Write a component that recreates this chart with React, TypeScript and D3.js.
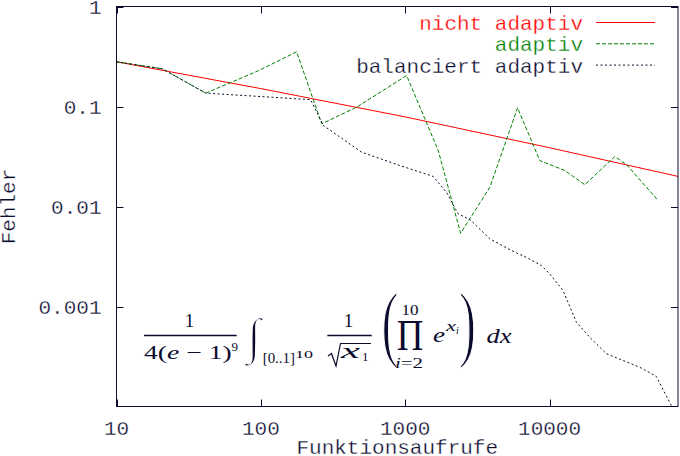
import React from "react";
import * as d3 from "d3";

const xTicks = [10, 100, 1000, 10000];
const xTickLabels = ["10", "100", "1000", "10000"];
const yTicks = [1, 0.1, 0.01, 0.001];
const yTickLabels = ["1", "0.1", "0.01", "0.001"];
const xDomain = [10, 77600];
const yDomain = [0.0001, 1];

const seriesNames = ["nicht adaptiv", "adaptiv", "balanciert adaptiv"];

const nichtX = [10, 100, 1000, 10000, 77600];
const nichtY = [0.28, 0.151, 0.0787, 0.0387, 0.02];

const adaptivX = [10, 20.8, 41.5, 94.6, 177, 264, 461, 1023, 1694, 2421, 3862, 6004, 8560, 12760, 17550, 28300, 34100, 56400];
const adaptivY = [0.28, 0.238, 0.136, 0.2255, 0.352, 0.0671, 0.0984, 0.204, 0.0363, 0.0054, 0.0156, 0.097, 0.0288, 0.0229, 0.0165, 0.0316, 0.0263, 0.0115];

const balX = [10, 20.8, 41.6, 117, 221, 271, 499, 918, 1563, 1936, 2328, 2806, 3857, 5446, 7098, 8785, 10030, 12390, 15340, 18970, 24760, 31470, 42100, 54900, 69800];
const balY = [0.28, 0.238, 0.136, 0.124, 0.117, 0.0646, 0.0349, 0.0257, 0.02, 0.0138, 0.00845, 0.00741, 0.00475, 0.00363, 0.00304, 0.00257, 0.00212, 0.00145, 0.000697, 0.000493, 0.000337, 0.000293, 0.000247, 0.0002, 0.000102];

const W = 680;
const H = 456;
const M = { left: 116.5, right: 678, top: 6.5, bottom: 406.5 };
const INK = "#0b0b2e";
const MONO = "'Liberation Mono', 'DejaVu Sans Mono', monospace";
const SERIF = "'Liberation Serif', 'DejaVu Serif', serif";

const x = d3.scaleLog().domain(xDomain).range([M.left, M.right]);
const y = d3.scaleLog().domain(yDomain).range([M.bottom, M.top]);

const series = [
  { name: seriesNames[0], xs: nichtX, ys: nichtY, color: "#ff0000", dash: "none" },
  { name: seriesNames[1], xs: adaptivX, ys: adaptivY, color: "#008000", dash: "4,2" },
  { name: seriesNames[2], xs: balX, ys: balY, color: INK, dash: "2,2.5" },
];

const line = d3
  .line<[number, number]>()
  .x((d) => x(d[0]))
  .y((d) => y(d[1]));

// thin the glyphs slightly with a white outline drawn over the fill
const thin = { stroke: "#fff", strokeWidth: 0.3 };
const thinBig = { stroke: "#fff", strokeWidth: 1.6 };

function Formula() {
  const it = { fontStyle: "italic" as const };
  const fit = { lengthAdjust: "spacingAndGlyphs" as const };
  return (
    <g fill={INK} fontFamily={SERIF}>
      {/* 1 / 4(e-1)^9 */}
      <text x={189.5} y={327} fontSize={19} textAnchor="middle">1</text>
      <line x1={144} x2={236.7} y1={335.5} y2={335.5} stroke={INK} strokeWidth={1.3} />
      <text x={144} y={358.5} fontSize={19} textLength={87.7} {...fit}>
        4(<tspan {...it}>e</tspan> − 1)
      </text>
      <text x={231.5} y={351} fontSize={13}>9</text>
      {/* integral */}
      <text x={247} y={353} fontSize={50} {...it} {...thinBig}>∫</text>
      <text x={262.7} y={363} fontSize={15} textLength={32.3} {...fit}>[0..1]</text>
      <text x={295} y={357.5} fontSize={11} textLength={18} {...fit}>10</text>
      {/* 1 / sqrt(x1) */}
      <text x={348.5} y={327} fontSize={19} textAnchor="middle">1</text>
      <line x1={327.3} x2={371.7} y1={335.5} y2={335.5} stroke={INK} strokeWidth={1.3} />
      <path d="M328,356 L331.5,353.5 L336,366 L340.5,343.5 L371,343.5" fill="none" stroke={INK} strokeWidth={1.2} />
      <text x={341} y={357.5} fontSize={20} textLength={19} {...fit} {...it}>x</text>
      <text x={362} y={361} fontSize={13}>1</text>
      {/* big parens and product */}
      <text x={381.5} y={351} fontSize={85} transform="translate(381.5,0) scale(0.6,1) translate(-381.5,0)" {...thinBig}>(</text>
      <text x={401.5} y={315} fontSize={14} textLength={17} {...fit}>10</text>
      <text x={396.7} y={350} fontSize={45} textLength={26.6} {...fit}>Π</text>
      <text x={395} y={367.5} fontSize={14} textLength={28} {...fit}>
        <tspan {...it}>i</tspan>=2
      </text>
      <text x={433} y={342} fontSize={21} textLength={12} {...fit} {...it}>e</text>
      <text x={446} y={331} fontSize={14} textLength={10} {...fit} {...it}>x</text>
      <text x={456} y={334} fontSize={10} {...it}>i</text>
      <text x={459} y={351} fontSize={85} transform="translate(459,0) scale(0.6,1) translate(-459,0)" {...thinBig}>)</text>
      <text x={486.5} y={342.5} fontSize={21} textLength={25} {...fit} {...it}>dx</text>
    </g>
  );
}

export default function App() {
  const tick = 7;
  return (
    <svg
      width={W}
      height={H}
      viewBox={`0 0 ${W} ${H}`}
      style={{ position: "absolute", left: 0, top: 0, background: "#fff" }}
    >
      <rect x={0} y={0} width={W} height={H} fill="#fff" />
      <defs>
        <clipPath id="plotclip">
          <rect x={M.left} y={M.top} width={M.right - M.left} height={M.bottom - M.top} />
        </clipPath>
      </defs>

      {/* ticks */}
      <g stroke={INK} strokeWidth={1}>
        {xTicks.map((t) => (
          <g key={"xt" + t}>
            <line x1={Math.round(x(t)) + 0.5} x2={Math.round(x(t)) + 0.5} y1={M.bottom} y2={M.bottom - tick} />
            <line x1={Math.round(x(t)) + 0.5} x2={Math.round(x(t)) + 0.5} y1={M.top} y2={M.top + tick} />
          </g>
        ))}
        {yTicks.map((t) => (
          <g key={"yt" + t}>
            <line x1={M.left} x2={M.left + tick} y1={Math.round(y(t)) + 0.5} y2={Math.round(y(t)) + 0.5} />
            <line x1={M.right} x2={M.right - tick} y1={Math.round(y(t)) + 0.5} y2={Math.round(y(t)) + 0.5} />
          </g>
        ))}
      </g>

      {/* tick labels */}
      <g fill={INK} fontFamily={MONO} fontSize={21} {...thin}>
        {xTicks.map((t, i) => (
          <text key={"xl" + t} x={x(t)} y={435} textAnchor="middle">
            {xTickLabels[i]}
          </text>
        ))}
        {yTicks.map((t, i) => (
          <text key={"yl" + t} x={101.5} y={y(t) + 7} textAnchor="end">
            {yTickLabels[i]}
          </text>
        ))}
        <text x={(M.left + M.right) / 2} y={454} textAnchor="middle">Funktionsaufrufe</text>
        <text transform={`translate(15,${(M.top + M.bottom) / 2}) rotate(-90)`} textAnchor="middle">Fehler</text>
      </g>

      {/* data */}
      <g clipPath="url(#plotclip)" fill="none">
        {series.map((s) => (
          <path
            key={s.name}
            d={line(s.xs.map((v, i) => [v, s.ys[i]] as [number, number])) || ""}
            stroke={s.color}
            strokeWidth={1}
            strokeDasharray={s.dash === "none" ? undefined : s.dash}
          />
        ))}
      </g>

      {/* legend */}
      <g fontFamily={MONO} fontSize={21}>
        {series.map((s, i) => (
          <g key={"lg" + s.name}>
            <text x={583} y={30 + i * 21.3} textAnchor="end" fill={s.color} {...thin}>
              {s.name}
            </text>
            <line
              x1={596}
              x2={655}
              y1={23 + i * 21.3 - 0.5}
              y2={23 + i * 21.3 - 0.5}
              stroke={s.color}
              strokeWidth={1}
              strokeDasharray={s.dash === "none" ? undefined : s.dash}
            />
          </g>
        ))}
      </g>

      <Formula />

      {/* frame */}
      <rect
        x={M.left}
        y={M.top}
        width={M.right - M.left}
        height={M.bottom - M.top}
        fill="none"
        stroke={INK}
        strokeWidth={1}
      />
    </svg>
  );
}
